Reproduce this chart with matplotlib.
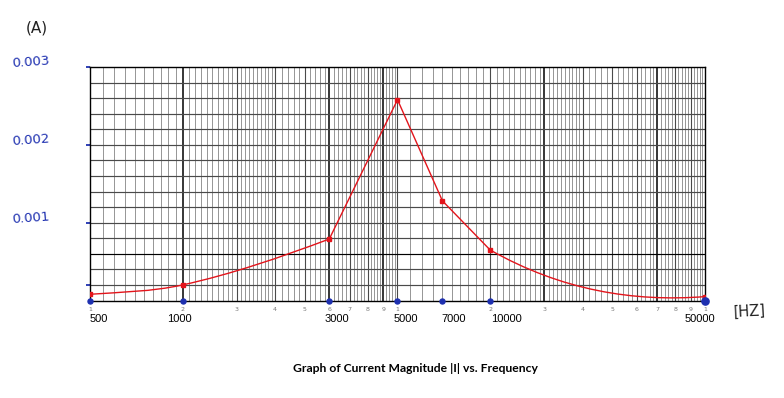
import numpy as np
import matplotlib
matplotlib.use("Agg")
import matplotlib.pyplot as plt
import matplotlib.transforms as mtransforms
from matplotlib.path import Path
from matplotlib.patches import PathPatch

# measured points: frequency (Hz) and current magnitude (A)
freq = [500, 1000, 3000, 5000, 7000, 10000, 50000]
current = [0.00008, 0.0002, 0.00079, 0.00258, 0.00128, 0.00065, 0.00005]

# hand written x labels and y labels
x_labels = ['500', '1000', '3000', '5000', '7000', '10000', '50000']
y_label_vals = [0.001, 0.002, 0.003]
y_label_txt = ['0.001', '0.002', '0.003']
y_marks = [0.0002, 0.001, 0.002, 0.003]

# printed log paper numbering (two decades, starting at 500 Hz)
paper_ticks = [500 * k for k in range(1, 10)] + [5000 * k for k in range(1, 10)] + [50000]
paper_labels = [str(k) for k in range(1, 10)] * 2 + ['1']

RED = '#e3141b'
BLUE = '#1e30b0'

fig = plt.figure(figsize=(7.84, 3.98), dpi=100)
ax = fig.add_axes([90 / 784, 97.5 / 398, 615 / 784, 233.5 / 398])
ax.set_xscale('log')
ax.set_xlim(500, 50000)
ax.set_ylim(0, 0.003)

# --- log paper grid ---
grid_x = []
for base in [500, 5000]:
    ks = np.concatenate([np.arange(1.1, 4.0, 0.1), np.arange(4.0, 10.0, 0.2)])
    grid_x += list(base * ks)
grid_x.append(5000)
dark_x = [1000, 3000, 4500, 15000, 35000]
for gx in grid_x:
    k = gx / (500 if gx < 5000 else 5000)
    if any(abs(gx - d) / d < 1e-6 for d in dark_x):
        ax.axvline(gx, color='black', lw=1.1, zorder=1)
    elif abs(k - round(k)) < 1e-6:
        ax.axvline(gx, color='#4a4a4a', lw=0.8, zorder=1)
    else:
        ax.axvline(gx, color='#858585', lw=0.6, zorder=1)

for gy in np.arange(0.0002, 0.003, 0.0002):
    c = 'black' if abs(gy - 0.0006) < 1e-9 else '#4a4a4a'
    ax.axhline(gy, color=c, lw=0.85, zorder=1)

for s in ax.spines.values():
    s.set_color('black')
    s.set_linewidth(1.0)

# printed numbers under the paper
ax.set_xticks(paper_ticks)
ax.set_xticklabels(paper_labels)
ax.xaxis.set_minor_locator(matplotlib.ticker.NullLocator())
ax.tick_params(axis='x', length=0, pad=4.5, labelsize=4.5, labelcolor='#777777')

# hand drawn blue marks on the y axis
ax.set_yticks(y_marks)
ax.set_yticklabels([''] * len(y_marks))
ax.tick_params(axis='y', length=3, width=1.3, color=BLUE, direction='out')

# --- current curve ---
u = np.log10(freq)
y = np.array(current)


def bezier_segment(idx, slopes):
    verts = [(freq[idx[0]], current[idx[0]])]
    codes = [Path.MOVETO]
    for a, b, ma, mb in zip(idx[:-1], idx[1:], slopes[:-1], slopes[1:]):
        h = u[b] - u[a]
        verts.append((10 ** (u[a] + h / 3), y[a] + ma * h / 3))
        verts.append((10 ** (u[b] - h / 3), y[b] - mb * h / 3))
        verts.append((freq[b], current[b]))
        codes += [Path.CURVE4] * 3
    return PathPatch(Path(verts, codes), fill=False, edgecolor=RED, lw=1.0, zorder=3)


def chord(a, b):
    return (y[b] - y[a]) / (u[b] - u[a])


# low side: smooth rising curve
ax.add_patch(bezier_segment([0, 1, 2], [0.7 * chord(0, 1), 0.95 * chord(0, 2), 1.2 * chord(1, 2)]))
# around resonance: straight segments
ax.plot(freq[2:6], current[2:6], color=RED, lw=1.0, zorder=3)
# high side: smooth decay
ax.add_patch(bezier_segment([5, 6], [0.55 * chord(4, 5), -0.35 * chord(5, 6)]))

ax.plot(freq, current, linestyle='none', marker='s', ms=3.2, color=RED, zorder=4)

# blue dots on the frequency axis (last one drawn a bit bigger)
ax.plot(freq[:-1], [0] * (len(freq) - 1), linestyle='none', marker='o', ms=3.6,
        color=BLUE, zorder=5, clip_on=False)
ax.plot(freq[-1:], [0], linestyle='none', marker='o', ms=5.2, color=BLUE,
        zorder=5, clip_on=False)

# hand written frequency values
label_dx = [9, -3, 8, 8, 11, 16, -5]
xtrans = mtransforms.blended_transform_factory(ax.transData, ax.transAxes)
for f, lab, dx in zip(freq, x_labels, label_dx):
    tr = mtransforms.offset_copy(xtrans, fig=fig, x=dx * 0.72, y=-13.5, units='points')
    ax.text(f, 0, lab, transform=tr, ha='center', va='center', fontsize=8,
            family='Liberation Sans', color='black', clip_on=False)

# hand written current values
ytrans = mtransforms.blended_transform_factory(ax.transAxes, ax.transData)
for v, lab in zip(y_label_vals, y_label_txt):
    tr = mtransforms.offset_copy(ytrans, fig=fig, y=3.5, units='points')
    ax.text(-0.096, v, lab, transform=tr, ha='center', va='center', fontsize=9.5,
            color=BLUE, rotation=4, family='DejaVu Sans')

fig.text(37 / 784, 1 - 28 / 398, '(A)', ha='center', va='center', fontsize=11,
         color='#222222', family='DejaVu Sans')
fig.text(750 / 784, 1 - 311 / 398, '[HZ]', ha='center', va='center', fontsize=10.5,
         color='#222222', family='DejaVu Sans', rotation=3)

fig.text(415 / 784, 1 - 368 / 398, 'Graph of Current Magnitude |I| vs. Frequency',
         ha='center', va='center', fontsize=8.7, fontweight='bold', family='Lato')

fig.savefig('out.png', dpi=100)
